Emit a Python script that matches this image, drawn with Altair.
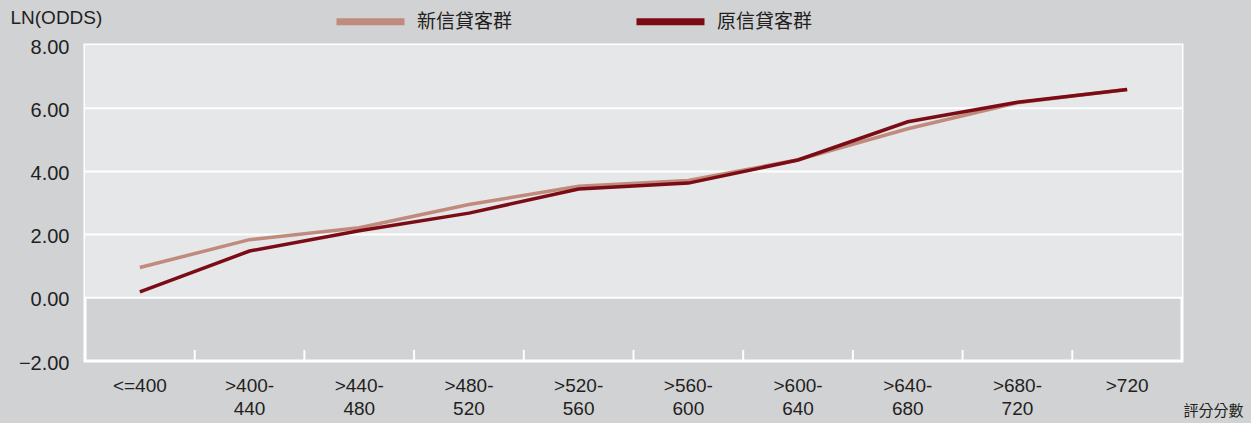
import altair as alt
import pandas as pd

categories = ["<=400", ">400-440", ">440-480", ">480-520", ">520-560",
              ">560-600", ">600-640", ">640-680", ">680-720", ">720"]
new_vals = [0.96, 1.84, 2.22, 2.95, 3.53, 3.71, 4.37, 5.35, 6.17, 6.59]
old_vals = [0.19, 1.48, 2.12, 2.68, 3.44, 3.63, 4.36, 5.57, 6.19, 6.59]
series = ["新信貸客群", "原信貸客群"]
colors = ["#c08a7d", "#7b0c16"]
y_ticks = [-2, 0, 2, 4, 6, 8]
grid_vals = [0, 2, 4, 6]
upper_band = [0, 8]

W, H = 1097, 316
FONT = "Liberation Sans"
CJK = "Noto Sans CJK TC"
TXT = "#231f20"

rows = []
for s, vals in zip(series, [new_vals, old_vals]):
    for c, v in zip(categories, vals):
        rows.append({"cat": c, "val": v, "series": s})
df = pd.DataFrame(rows)

xscale = alt.Scale(type="band", domain=categories, paddingInner=0, paddingOuter=0)
yscale = alt.Scale(domain=[y_ticks[0], y_ticks[-1]], nice=False, zero=False)

label_expr = ("indexof(datum.value,'-') > 0 ? "
              "[slice(datum.value, 0, indexof(datum.value,'-')+1), "
              "slice(datum.value, indexof(datum.value,'-')+1)] : datum.value")

xaxis = alt.Axis(title="評分分數", labelExpr=label_expr, labelAngle=0,
                 labelFont=FONT, labelFontSize=19, labelColor=TXT,
                 labelLineHeight=23, labelBaseline="top", labelPadding=15,
                 ticks=False, domain=False, grid=False,
                 titleFont=CJK, titleFontSize=15, titleFontWeight="normal",
                 titleColor=TXT, titleX=W + 1, titleY=49, titleAlign="left",
                 titleBaseline="middle", titleAnchor="start")
yaxis = alt.Axis(title="LN(ODDS)", values=y_ticks, format=".2f",
                 labelFont=FONT, labelFontSize=20, labelColor=TXT,
                 labelPadding=16, labelOffset=2, ticks=False, domain=False, grid=False,
                 titleFont=FONT, titleFontSize=19, titleFontWeight="normal",
                 titleColor=TXT, titleAngle=0, titleX=-75, titleY=-28,
                 titleAlign="left", titleBaseline="middle")

upper = alt.Chart(pd.DataFrame({"hi": [upper_band[1]], "lo": [upper_band[0]]})).mark_rect(
    color="#e6e7e8").encode(
    y=alt.Y("hi:Q", scale=yscale, axis=yaxis),
    y2="lo:Q",
    x=alt.value(0), x2=alt.value(W))

grid = alt.Chart(pd.DataFrame({"v": grid_vals})).mark_rule(
    color="white", strokeWidth=2).encode(
    y=alt.Y("v:Q", scale=yscale, axis=yaxis))

ticks = alt.Chart(pd.DataFrame({"cat": categories[1:]})).mark_rule(
    color="white", strokeWidth=2).encode(
    x=alt.X("cat:N", scale=xscale, axis=xaxis, bandPosition=0, sort=categories),
    y=alt.value(H - 11), y2=alt.value(H))

lines = alt.Chart(df).mark_line(strokeWidth=3.5).encode(
    x=alt.X("cat:N", scale=xscale, axis=xaxis, bandPosition=0.5, sort=categories),
    y=alt.Y("val:Q", scale=yscale, axis=yaxis),
    color=alt.Color("series:N", sort=series,
                    scale=alt.Scale(domain=series, range=colors),
                    legend=alt.Legend(title=None, orient="none", legendX=248, legendY=-61,
                                      direction="horizontal", columns=2,
                                      symbolType="stroke", symbolSize=4624,
                                      symbolStrokeWidth=7, labelFont=CJK,
                                      labelFontSize=19, labelColor=TXT,
                                      labelOffset=9, columnPadding=109, padding=0)),
    detail="series:N")

chart = alt.layer(upper, grid, ticks, lines).properties(
    width=W, height=H,
    padding={"left": 85, "top": 45, "right": 69, "bottom": 62},
    autosize=alt.AutoSizeParams(type="none"),
    background="#d1d2d4",
).configure_view(stroke="white", strokeWidth=3, fill=None)

chart.save("out.html", embed_options={"renderer": "svg", "actions": False})
